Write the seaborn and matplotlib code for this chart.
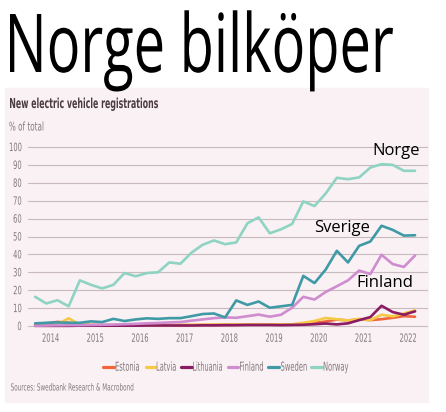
import matplotlib
matplotlib.use("Agg")
import matplotlib.pyplot as plt
from matplotlib.patches import Rectangle
from matplotlib.lines import Line2D
from matplotlib.transforms import Affine2D
import matplotlib.patheffects as pe
import pandas as pd
import seaborn as sns

# Kvartalsdata, andel elbilar av nyregistreringar (%)
kvartal = [2013.66 + 0.25 * i for i in range(35)]

estonia = [1.0, 1.5, 2.3, 1.8, 0.8, 0.6, 0.5, 0.5, 0.5, 0.5,
           0.5, 0.5, 0.5, 0.5, 0.5, 0.6, 0.6, 0.6, 0.7, 0.8,
           0.9, 0.8, 0.8, 0.9, 1.3, 1.8, 2.5, 3.6, 3.1, 3.7,
           3.3, 3.8, 4.6, 5.5, 5.2]
latvia = [0.3, 0.5, 1.0, 4.3, 0.8, 0.5, 0.4, 0.4, 0.5, 0.5,
          0.5, 0.5, 0.5, 0.6, 0.6, 0.7, 0.8, 0.8, 0.9, 0.9,
          1.0, 0.9, 0.8, 0.9, 1.8, 2.8, 4.5, 3.8, 3.1, 4.0,
          3.3, 6.3, 5.4, 7.0, 8.7]
lithuania = [0.1, 0.1, 0.1, 0.1, 0.2, 0.2, 0.2, 0.2, 0.2, 0.2,
             0.3, 0.3, 0.3, 0.3, 0.3, 0.4, 0.4, 0.5, 0.5, 0.6,
             0.6, 0.6, 0.5, 0.6, 0.7, 1.0, 1.4, 0.9, 1.5, 3.3,
             5.0, 11.3, 7.8, 6.3, 8.2]
finland = [0.2, 0.3, 0.4, 0.5, 0.5, 0.6, 0.7, 0.8, 1.0, 1.2,
           1.5, 1.7, 2.0, 2.2, 3.0, 3.7, 4.4, 4.8, 4.6, 5.5,
           6.4, 5.2, 6.3, 10.2, 16.3, 14.8, 19.0, 22.2, 25.5, 31.0,
           29.0, 39.8, 34.6, 33.0, 39.4]
sweden = [1.5, 1.8, 2.0, 1.8, 1.8, 2.6, 2.2, 4.0, 2.8, 3.7,
          4.3, 4.0, 4.4, 4.4, 5.5, 6.7, 7.0, 4.8, 14.3, 11.8,
          13.7, 10.2, 11.0, 11.8, 28.0, 24.0, 31.5, 42.0, 35.5, 44.8,
          47.2, 56.0, 53.7, 50.5, 50.7]
norway = [16.3, 12.6, 14.4, 11.0, 25.5, 23.0, 21.0, 23.0, 29.6, 27.8,
          29.6, 30.0, 35.5, 34.8, 41.0, 45.4, 47.8, 45.7, 46.7, 57.4,
          60.7, 51.8, 54.0, 57.0, 69.6, 67.0, 74.0, 82.8, 82.0, 83.0,
          88.5, 90.4, 90.0, 86.7, 86.7]

lander = ['Estonia', 'Latvia', 'Lithuania', 'Finland', 'Sweden', 'Norway']
farger = ['#f0663a', '#f6c945', '#8a1c63', '#cf8ccf', '#3f9aa6', '#8fd3c3']
ar = list(range(2014, 2023))

serier = [estonia, latvia, lithuania, finland, sweden, norway]
df = pd.concat([pd.DataFrame({'kvartal': kvartal, 'andel': s, 'land': l})
                for l, s in zip(lander, serier)])

W, H = 446, 412


# smal text: skalar glyferna (x runt ankare, y runt baslinjen)
class Smal(pe.AbstractPathEffect):
    def __init__(self, sx=1.0, sy=1.0, ankare='left', fit=None):
        super().__init__()
        self.sx, self.sy, self.ankare, self.fit = sx, sy, ankare, fit

    def draw_path(self, renderer, gc, tpath, affine, rgbFace=None):
        ext = tpath.get_extents(affine)
        ox, oy = affine.transform((0, 0))
        if self.fit is not None:
            t0, t1 = self.fit
            extra = Affine2D().translate(-ext.x0, -oy).scale((t1 - t0) / ext.width, self.sy).translate(t0, oy)
        else:
            a = {'left': ext.x0, 'center': (ext.x0 + ext.x1) / 2, 'right': ext.x1}[self.ankare]
            extra = Affine2D().translate(-a, -oy).scale(self.sx, self.sy).translate(a, oy)
        renderer.draw_path(gc, tpath, affine + extra, rgbFace)


sns.set_style("white")
plt.rcParams['font.family'] = ['DejaVu Sans']
plt.rcParams['font.stretch'] = 'condensed'

rosa = '#f9f1f4'
gra = '#85797c'

fig = plt.figure(figsize=(W / 100, H / 100), dpi=100)
fig.patches.append(Rectangle((5 / W, 10 / H), 423 / W, 314 / H,
                             transform=fig.transFigure, color=rosa, zorder=-5))

ax = fig.add_axes([28 / W, 82.4 / H, 400 / W, 186.2 / H])
ax.set_facecolor(rosa)
sns.lineplot(data=df, x='kvartal', y='andel', hue='land', hue_order=lander,
             palette=dict(zip(lander, farger)), linewidth=1.9, legend=False, ax=ax)

ax.set_xlim(2013.5, 2022.45)
ax.set_ylim(-2, 102)
ax.set_yticks(range(0, 101, 10))
ax.set_xticks(ar)
ax.set_xticklabels([str(a) for a in ar])
ax.set_xlabel('')
ax.set_ylabel('')
ax.grid(axis='y', color='#c9babe', linewidth=0.8)
ax.grid(axis='x', visible=False)
for s in ax.spines.values():
    s.set_visible(False)
ax.tick_params(axis='both', length=0, labelsize=8.2, labelcolor=gra)
ax.tick_params(axis='y', pad=4.5)
ax.tick_params(axis='x', pad=3)
for t in ax.get_xticklabels():
    t.set_path_effects([Smal(0.66, ankare='center')])
for t in ax.get_yticklabels():
    t.set_path_effects([Smal(0.66, ankare='right')])

# Etiketter i diagrammet
ann = dict(fontsize=12, color='black', family=['Open Sans', 'DejaVu Sans'],
           fontstretch='normal', va='center')
ax.text(2021.2, 97.8, 'Norge', **ann)
ax.text(2019.9, 54.7, 'Sverige', **ann)
ax.text(2020.84, 24.0, 'Finland', **ann)

# Teckenförklaring (linje + text), positioner i pixlar
leg_linje = [(103.3, 114), (145.7, 155), (181, 191.7), (227.7, 238.3), (268, 279), (311, 321.7)]
leg_text = [(115.7, 139), (156.7, 175.7), (193, 222), (240, 263), (281, 306.7), (323.7, 348.3)]
ly = (H - 366.7) / H
lstorlek = 5.4
lsy = 9.0 / (0.729 * lstorlek * 100 / 72)
for namn, c, (h0, h1), (t0, t1) in zip(lander, farger, leg_linje, leg_text):
    fig.add_artist(Line2D([h0 / W, h1 / W], [ly, ly], color=c, linewidth=2.3,
                          transform=fig.transFigure))
    fig.text(t0 / W, (H - 370.7) / H, namn, fontsize=lstorlek, color=gra, va='baseline',
             path_effects=[Smal(sy=lsy, fit=(t0, t1))])

# Titel: Open Sans, sträckt på höjden till ca 58 px versalhöjd
tstorlek = 40
fig.text(10 / W, (H - 72) / H, 'Norge bilköper', fontsize=tstorlek, color='black',
         va='baseline', ha='left', family=['Open Sans', 'DejaVu Sans'], fontstretch='normal',
         path_effects=[Smal(sy=58 / (0.714 * tstorlek * 100 / 72), fit=(10, 393))])

fig.text(10 / W, (H - 108) / H, 'New electric vehicle registrations', fontsize=9.9,
         color='#4b3c41', fontweight='bold', va='baseline',
         path_effects=[Smal(fit=(10, 158))])
fig.text(10 / W, (H - 130.5) / H, '% of total', fontsize=8.6, color=gra, va='baseline',
         path_effects=[Smal(fit=(9.3, 43.3))])
fig.text(10 / W, (H - 390.5) / H, 'Sources: Swedbank Research & Macrobond', fontsize=7,
         color=gra, va='baseline', path_effects=[Smal(fit=(11, 133.3))])

fig.savefig('out.png', dpi=100)
